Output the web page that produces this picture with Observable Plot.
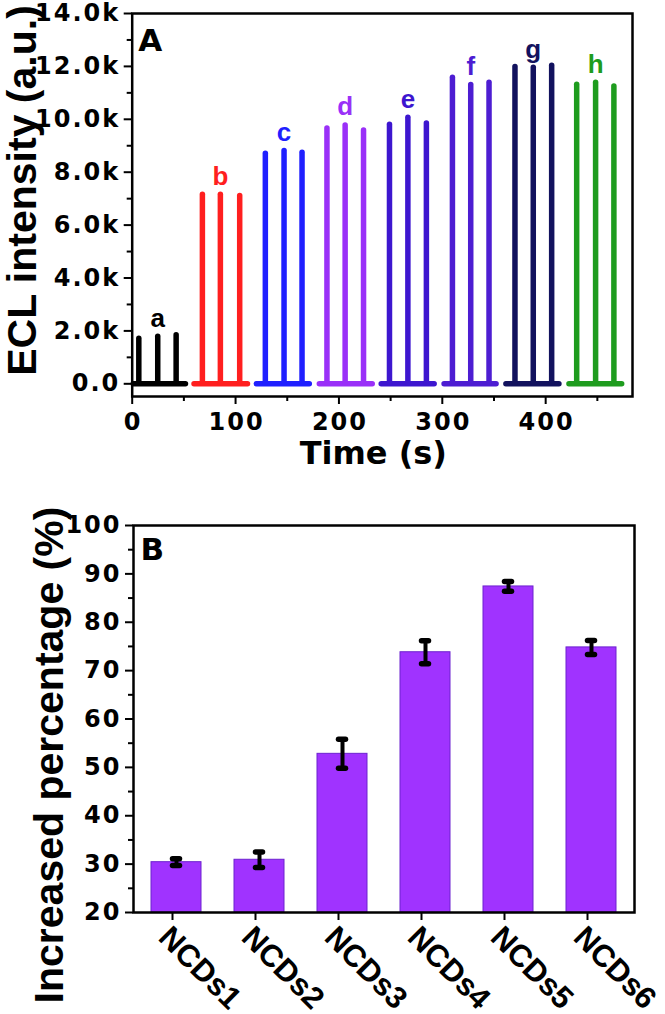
<!DOCTYPE html>
<html><head><meta charset="utf-8">
<script src="https://cdn.jsdelivr.net/npm/d3@7"></script>
<script src="https://cdn.jsdelivr.net/npm/@observablehq/plot@0.6"></script>
<style>
body{margin:0;background:#fff;width:665px;height:1014px;overflow:hidden}
#chartA,#chartB{display:block;line-height:0}
svg{display:block;overflow:visible}
g[font-size="24"] text, .ticklab text{letter-spacing:2px}
</style></head><body><div id="chartA"></div><div id="chartB"></div>
<script>
// ---------- Panel A data ----------
const seriesNames = ["a", "b", "c", "d", "e", "f", "g", "h"];
const seriesColors = ["#000000", "#ff1f1f", "#1f1fff", "#9a30f8", "#3d16cf", "#4d1dd2", "#12125e", "#1e9c1e"];
const segmentStart = [1.5, 60.3, 120.6, 181.5, 241.4, 302.2, 362, 423];
const segmentEnd = [52, 112, 171.8, 232.7, 292.6, 352.5, 413.3, 474];
const peakTimes = [
  [6.4, 24.7, 42.5], [67.9, 85.3, 104], [128.8, 146.9, 164.3], [188.4, 206, 223.8],
  [248.9, 266.7, 284.6], [309.8, 327.5, 345.2], [370.3, 388, 405.8], [430, 448.3, 466]
];
const peakHeights = [
  [1700, 1780, 1840], [7150, 7150, 7100], [8700, 8800, 8740], [9650, 9770, 9580],
  [9790, 10060, 9840], [11570, 11300, 11380], [11980, 11950, 12020], [11310, 11380, 11240]
];
const xTicksA = [0, 100, 200, 300, 400];
const xMinorA = [50, 150, 250, 350, 450];
const yTicksA = [0, 2000, 4000, 6000, 8000, 10000, 12000, 14000];
const yTickLabelsA = ["0.0", "2.0k", "4.0k", "6.0k", "8.0k", "10.0k", "12.0k", "14.0k"];
const yMinorA = [1000, 3000, 5000, 7000, 9000, 11000, 13000];

// ---------- Panel B data ----------
const categories = ["NCDs1", "NCDs2", "NCDs3", "NCDs4", "NCDs5", "NCDs6"];
const percentValues = [30.4, 30.9, 52.8, 73.8, 87.4, 74.8];
const percentErrors = [0.7, 1.6, 3.0, 2.4, 1.0, 1.45];
const yTicksB = [20, 30, 40, 50, 60, 70, 80, 90, 100];
const yMinorB = [25, 35, 45, 55, 65, 75, 85, 95];
const yMinB = 20, yMaxB = 100;

// ---------- tables built from arrays ----------
const segments = seriesNames.map((s, i) => ({series: s, start: segmentStart[i], end: segmentEnd[i], color: seriesColors[i]}));
const peaks = seriesNames.flatMap((s, i) => peakTimes[i].map((t, j) => ({series: s, t, h: peakHeights[i][j], color: seriesColors[i]})));
const labels = seriesNames.map((s, i) => ({series: s, t: peakTimes[i][1], h: peakHeights[i][1], color: seriesColors[i]}));
const bars = categories.map((c, i) => ({name: c, value: percentValues[i], err: percentErrors[i]}));

const wideFont = "DejaVu Sans";
const titleFont = "Liberation Sans";
const tickText = {fontFamily: wideFont, fontSize: 24, fontWeight: "bold", fill: "#000", className: "ticklab"};
const baseStyle = {color: "#000", background: "#fff", overflow: "visible"};
const noText = () => "";

const figA = Plot.plot({
  width: 665, height: 480,
  marginTop: 13, marginBottom: 84, marginLeft: 131.7, marginRight: 33,
  x: {domain: [0, 484]},
  y: {domain: [-480, 14000]},
  color: {type: "identity"},
  style: baseStyle,
  marks: [
    Plot.axisY(yMinorA, {tickSize: 5, strokeWidth: 2, tickFormat: noText, label: null}),
    Plot.axisY(yTicksA, {tickSize: 8, strokeWidth: 2, tickFormat: noText, label: null}),
    Plot.axisX(xMinorA, {tickSize: 5, strokeWidth: 2, tickFormat: noText, label: null}),
    Plot.axisX(xTicksA, {tickSize: 8, strokeWidth: 2, tickFormat: noText, label: null}),
    Plot.text(yTicksA, {y: d => d, text: (d, i) => yTickLabelsA[i], frameAnchor: "left", textAnchor: "end", lineAnchor: "middle", dx: -12, ...tickText}),
    Plot.text(xTicksA, {x: d => d, text: d => String(d), frameAnchor: "bottom", textAnchor: "middle", lineAnchor: "top", dy: 16, dx: 1, ...tickText}),
    Plot.ruleY(segments, {y: 0, x1: "start", x2: "end", stroke: "color", strokeWidth: 5.5, strokeLinecap: "round"}),
    Plot.ruleX(peaks, {x: "t", y1: 0, y2: "h", stroke: "color", strokeWidth: 5.5, strokeLinecap: "round"}),
    Plot.text(labels, {x: "t", y: "h", text: "series", fill: "color", dy: -10, lineAnchor: "bottom",
      fontFamily: titleFont, fontSize: 26, fontWeight: "bold"}),
    Plot.frame({stroke: "#000", strokeWidth: 2.5}),
    Plot.text(["A"], {frameAnchor: "top-left", textAnchor: "start", lineAnchor: "top", dx: 6, dy: 15,
      fontFamily: wideFont, fontSize: 31, fontWeight: "bold"}),
    Plot.text(["Time (s)"], {frameAnchor: "bottom", textAnchor: "middle", lineAnchor: "bottom", dx: -9, dy: 67,
      fontFamily: wideFont, fontSize: 32, fontWeight: "bold"}),
    Plot.text(["ECL intensity (a.u.)"], {frameAnchor: "left", rotate: -90, textAnchor: "middle", lineAnchor: "middle", dx: -109.7, dy: -14.5,
      fontFamily: titleFont, fontSize: 41, fontWeight: "bold"})
  ]
});
document.getElementById("chartA").append(figA);

const figB = Plot.plot({
  width: 665, height: 534,
  marginTop: 45, marginBottom: 102, marginLeft: 133, marginRight: 31,
  x: {type: "band", domain: categories, paddingInner: 0.4, paddingOuter: 0.2},
  y: {domain: [yMinB, yMaxB]},
  style: baseStyle,
  marks: [
    Plot.axisY(yMinorB, {tickSize: 5, strokeWidth: 2, tickFormat: noText, label: null}),
    Plot.axisY(yTicksB, {tickSize: 8, strokeWidth: 2, tickFormat: noText, label: null}),
    Plot.text(yTicksB, {y: d => d, text: d => String(d), frameAnchor: "left", textAnchor: "end", lineAnchor: "middle", dx: -12, ...tickText}),
    Plot.barY(bars, {x: "name", y1: yMinB, y2: "value", fill: "#a033ff", stroke: "#6d22cf", strokeWidth: 1}),
    Plot.ruleX(bars, {x: "name", y1: d => d.value - d.err, y2: d => d.value + d.err, stroke: "#000", strokeWidth: 4}),
    Plot.tickY(bars, {x: "name", y: d => d.value + d.err, insetLeft: 21.5, insetRight: 21.5, stroke: "#000", strokeWidth: 5.5, strokeLinecap: "round"}),
    Plot.tickY(bars, {x: "name", y: d => d.value - d.err, insetLeft: 21.5, insetRight: 21.5, stroke: "#000", strokeWidth: 5.5, strokeLinecap: "round"}),
    Plot.axisX({tickSize: 8, tickPadding: 3, strokeWidth: 2, tickRotate: 45, textAnchor: "start", lineAnchor: "top", dx: -4,
      fontFamily: titleFont, fontSize: 31, fontWeight: "bold", label: null}),
    Plot.frame({stroke: "#000", strokeWidth: 2.5}),
    Plot.text(["B"], {frameAnchor: "top-left", textAnchor: "start", lineAnchor: "top", dx: 7, dy: 12,
      fontFamily: wideFont, fontSize: 31, fontWeight: "bold"}),
    Plot.text(["Increased percentage (%)"], {frameAnchor: "left", rotate: -90, textAnchor: "middle", lineAnchor: "middle", dx: -84, dy: 36,
      fontFamily: titleFont, fontSize: 41, fontWeight: "bold"})
  ]
});
document.getElementById("chartB").append(figB);
</script></body></html>
